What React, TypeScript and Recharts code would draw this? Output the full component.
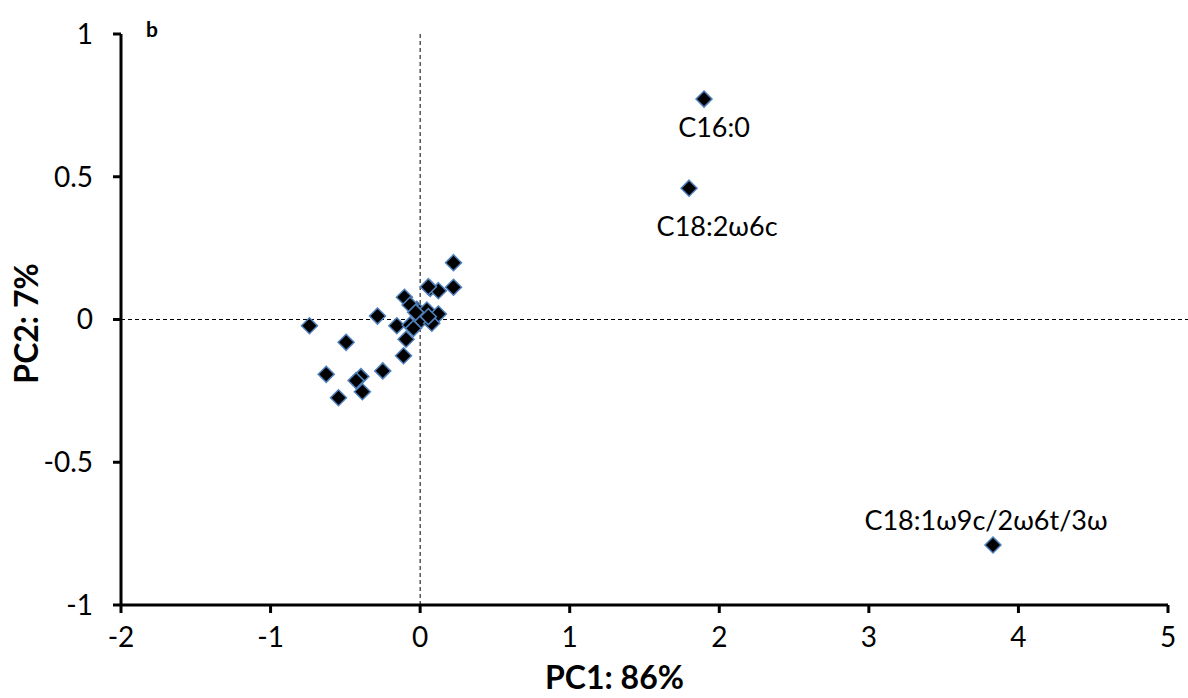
import {
  ReferenceLine,
  Scatter,
  ScatterChart,
  XAxis,
  YAxis,
  Label,
} from 'recharts';

// PC1 / PC2 scores
const pc1 = [
  0.223, 0.223, 0.067, 0.122, 0.055, -0.105, -0.285, -0.74, -0.156, -0.022,
  -0.067, 0.045, 0.122, -0.005, -0.067, 0.078, -0.045, 0.055, -0.094, -0.495,
  -0.111, -0.628, -0.25, -0.396, -0.428, -0.386, -0.546, -0.03,
  1.898, 1.798, 3.83,
];
const pc2 = [
  0.199, 0.113, 0.109, 0.101, 0.115, 0.078, 0.012, -0.022, -0.022, 0.036,
  0.051, 0.033, 0.019, -0.008, -0.019, -0.013, -0.031, 0.01, -0.069, -0.08,
  -0.127, -0.192, -0.18, -0.2, -0.214, -0.253, -0.274, 0.025,
  0.772, 0.46, -0.79,
];
const names = [
  '', '', '', '', '', '', '', '', '', '',
  '', '', '', '', '', '', '', '', '', '',
  '', '', '', '', '', '', '', '',
  'C16:0', 'C18:2ω6c', 'C18:1ω9c/2ω6t/3ω',
];

const xTicks = [-2, -1, 0, 1, 2, 3, 4, 5];
const yTicks = [-1, -0.5, 0, 0.5, 1];

const points = pc1.map((x, i) => ({ x, y: pc2[i], name: names[i] }));

// where each text label sits relative to its point
const labelOffset: Record<string, [number, number]> = {
  'C16:0': [10, 38],
  'C18:2ω6c': [28, 48],
  'C18:1ω9c/2ω6t/3ω': [-7, -15],
};

const FONT = 'Lato, "DejaVu Sans", sans-serif';

const Diamond = (props: any) => {
  const { cx, cy, payload } = props;
  const r = 8;
  const off = labelOffset[payload.name];
  return (
    <g>
      <polygon
        points={`${cx},${cy - r} ${cx + r},${cy} ${cx},${cy + r} ${cx - r},${cy}`}
        fill="#000"
        stroke="#4f81bd"
        strokeWidth={1.5}
      />
      {off && (
        <text
          x={cx + off[0]}
          y={cy + off[1]}
          textAnchor="middle"
          fontSize={27}
          fontFamily={FONT}
          fill="#000"
        >
          {payload.name}
        </text>
      )}
    </g>
  );
};

export default function App() {
  return (
    <div style={{ position: 'absolute', left: 0, top: 0, background: '#fff' }}>
      <ScatterChart
        width={1188}
        height={698}
        margin={{ top: 34, right: 20, bottom: 0, left: 0 }}
      >
        <XAxis
          type="number"
          dataKey="x"
          domain={[-2, 5]}
          ticks={xTicks}
          height={93}
          axisLine={{ stroke: '#000', strokeWidth: 3 }}
          tickLine={{ stroke: '#000', strokeWidth: 3 }}
          tickSize={8}
          tickMargin={14}
          tick={{ fill: '#000', fontSize: 28, fontFamily: FONT }}
        >
          <Label
            content={({ viewBox }: any) => (
              <text
                x={viewBox.x + viewBox.width / 2 - 30}
                y={viewBox.y + 84}
                textAnchor="middle"
                fontSize={32}
                fontWeight="bold"
                fontFamily={FONT}
                fill="#000"
              >
                PC1: 86%
              </text>
            )}
          />
        </XAxis>
        <YAxis
          type="number"
          dataKey="y"
          domain={[-1, 1]}
          ticks={yTicks}
          width={121}
          axisLine={{ stroke: '#000', strokeWidth: 3 }}
          tickLine={{ stroke: '#000', strokeWidth: 3 }}
          tickSize={8}
          tickMargin={20}
          tick={{ fill: '#000', fontSize: 28, fontFamily: FONT }}
        >
          <Label
            content={({ viewBox }: any) => {
              const cx = 38;
              const cy = viewBox.y + viewBox.height / 2 + 4;
              return (
                <text
                  x={cx}
                  y={cy}
                  transform={`rotate(-90 ${cx} ${cy})`}
                  textAnchor="middle"
                  fontSize={32}
                  fontWeight="bold"
                  fontFamily={FONT}
                  fill="#000"
                >
                  PC2: 7%
                </text>
              );
            }}
          />
        </YAxis>
        <ReferenceLine x={0} stroke="#000" strokeWidth={1} strokeDasharray="4 3" />
        <ReferenceLine
          segment={[
            { x: -2, y: 0 },
            { x: 5.2, y: 0 },
          ]}
          ifOverflow="visible"
          stroke="#000"
          strokeWidth={1}
          strokeDasharray="4 3"
        />
        <Scatter
          data={points}
          shape={Diamond}
          isAnimationActive={false}
        />
        <text x={146} y={37} fontSize={21} fontWeight="bold" fontFamily={FONT} fill="#000">
          b
        </text>
      </ScatterChart>
    </div>
  );
}
